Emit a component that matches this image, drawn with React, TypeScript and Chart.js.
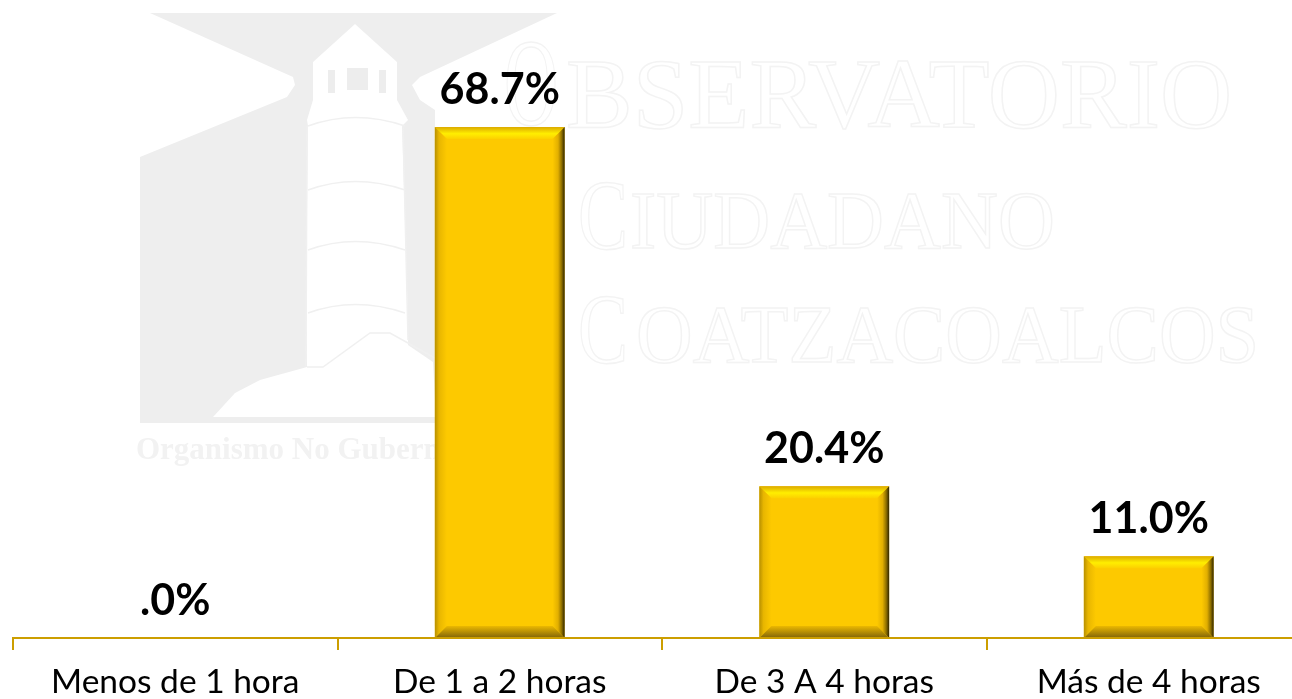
import React, { useEffect, useRef } from "react";
import { Chart, registerables } from "chart.js";

Chart.register(...registerables);

const categories = ["Menos de 1 hora", "De 1 a 2 horas", "De 3 A 4 horas", "Más de 4 horas"];
const values = [0.0, 68.7, 20.4, 11.0];
const valueLabels = [".0%", "68.7%", "20.4%", "11.0%"];

const shape = (c: any, pts: number[][]) => {
  c.beginPath();
  pts.forEach(([a, b], i) => (i ? c.lineTo(a, b) : c.moveTo(a, b)));
  c.closePath();
};

const scaledText = (c: any, text: string, x: number, y: number, size: number, sx: number) => {
  c.save();
  c.translate(x, y);
  c.scale(sx, 1);
  c.font = `${size}px "Liberation Serif"`;
  c.strokeText(text, 0, 0);
  c.restore();
};

const watermarkPlugin = {
  id: "watermark",
  beforeDraw(chart: any) {
    const c = chart.ctx;
    c.save();
    c.fillStyle = "#eeeeee";
    shape(c, [
      [150, 13], [557, 13], [420, 77], [412, 85], [420, 100], [435, 110], [435, 423], [140, 423],
      [140, 157], [287, 97], [295, 85], [293, 77],
    ]);
    c.fill();

    // tower, lantern and island cut out in white
    c.fillStyle = "#ffffff";
    shape(c, [
      [355, 24], [397, 62], [397, 100], [408, 120], [402, 126], [408, 320], [408, 345], [433, 362],
      [436, 417], [213, 417], [235, 393], [260, 380], [307, 367], [306, 300], [308, 126], [307, 120],
      [313, 100], [313, 62],
    ]);
    c.fill();

    // lantern windows
    c.fillStyle = "#ededed";
    c.fillRect(347, 68, 21, 22);
    c.fillRect(328, 70, 7, 23);
    c.fillRect(379, 70, 7, 23);

    // faint tower bands
    c.strokeStyle = "#f0f0f0";
    c.lineWidth = 1.5;
    [126, 190, 250, 313].forEach((y) => {
      c.beginPath();
      c.moveTo(308, y);
      c.quadraticCurveTo(355, y - 17, 405, y);
      c.stroke();
    });
    c.beginPath();
    c.moveTo(307, 126); c.lineTo(306, 366);
    c.moveTo(403, 126); c.lineTo(408, 340);
    c.moveTo(307, 367); c.lineTo(323, 367); c.lineTo(370, 333); c.lineTo(390, 333); c.lineTo(435, 358);
    c.stroke();

    // organisation line
    c.fillStyle = "#f2f2f2";
    c.font = 'bold 31px "Liberation Serif"';
    c.textAlign = "left";
    c.textBaseline = "alphabetic";
    c.fillText("Organismo No Gubernamental", 136, 459);

    // outlined name
    c.strokeStyle = "#f3f3f3";
    c.lineWidth = 1.5;
    scaledText(c, "O", 504, 125, 125, 0.6);
    scaledText(c, "BSERVATORIO", 566, 127, 100, 1);
    scaledText(c, "C", 578, 248, 100, 0.75);
    scaledText(c, "IUDADANO", 630, 248, 83, 0.95);
    scaledText(c, "C", 578, 362, 100, 0.75);
    scaledText(c, "OATZACOALCOS", 636, 362, 83, 0.945);
    c.restore();
  },
};

const bevelPlugin = {
  id: "bevel",
  afterDatasetsDraw(chart: any) {
    const c = chart.ctx;
    chart.getDatasetMeta(0).data.forEach((bar: any) => {
      const { x, y, base, width } = bar.getProps(["x", "y", "base", "width"]);
      if (base - y < 1) return;
      const l = x - width / 2;
      const r = x + width / 2;
      const d = 12;

      const top = c.createLinearGradient(0, y, 0, y + d);
      top.addColorStop(0, "#dcaa00");
      top.addColorStop(0.55, "#ffee00");
      top.addColorStop(1, "#fcd000");
      shape(c, [[l, y], [r, y], [r - d, y + d], [l + d, y + d]]);
      c.fillStyle = top;
      c.fill();

      const left = c.createLinearGradient(l, 0, l + d, 0);
      left.addColorStop(0, "#b89000");
      left.addColorStop(0.35, "#e8b600");
      left.addColorStop(1, "#fdc900");
      shape(c, [[l, y], [l + d, y + d], [l + d, base - d], [l, base]]);
      c.fillStyle = left;
      c.fill();

      const right = c.createLinearGradient(r - d, 0, r, 0);
      right.addColorStop(0, "#fdc900");
      right.addColorStop(0.45, "#e2af00");
      right.addColorStop(0.75, "#8f7000");
      right.addColorStop(1, "#2e2400");
      shape(c, [[r, y], [r - d, y + d], [r - d, base - d], [r, base]]);
      c.fillStyle = right;
      c.fill();

      const bottom = c.createLinearGradient(0, base - d, 0, base);
      bottom.addColorStop(0, "#ecb800");
      bottom.addColorStop(1, "#80640a");
      shape(c, [[l, base], [l + d, base - d], [r - d, base - d], [r, base]]);
      c.fillStyle = bottom;
      c.fill();
    });
  },
};

const labelPlugin = {
  id: "valueLabels",
  afterDatasetsDraw(chart: any) {
    const c = chart.ctx;
    c.save();
    c.font = 'bold 43px "Lato"';
    c.fillStyle = "#000000";
    c.textAlign = "center";
    c.textBaseline = "alphabetic";
    chart.getDatasetMeta(0).data.forEach((bar: any, i: number) => {
      c.fillText(valueLabels[i], bar.x, bar.y - 23);
    });
    c.restore();
  },
};

export default function App() {
  const ref = useRef<HTMLCanvasElement>(null);
  useEffect(() => {
    document.body.style.margin = "0";
    const chart = new Chart(ref.current!, {
      type: "bar",
      data: {
        labels: categories,
        datasets: [
          {
            data: values,
            backgroundColor: "#fdc900",
            barPercentage: 0.8,
            categoryPercentage: 0.5,
          },
        ],
      },
      options: {
        responsive: false,
        animation: false,
        layout: { padding: { left: 13, right: 9, top: 43, bottom: 0 } },
        plugins: { legend: { display: false }, tooltip: { enabled: false } },
        scales: {
          x: {
            afterFit(scale: any) {
              scale.height = 61;
            },
            grid: {
              drawOnChartArea: false,
              drawTicks: true,
              tickLength: 12,
              color: "#cc9e00",
              lineWidth: 2,
            },
            border: { color: "#cc9e00", width: 2, z: 1 },
            ticks: {
              color: "#000000",
              font: { family: "Lato", size: 33.5 },
              padding: 12,
              maxRotation: 0,
              autoSkip: false,
            },
          },
          y: { display: false, min: 0, max: 80 },
        },
      },
      plugins: [watermarkPlugin, bevelPlugin, labelPlugin],
    });
    return () => chart.destroy();
  }, []);
  return (
    <div style={{ width: 1292, height: 699, overflow: "hidden" }}>
      <canvas ref={ref} width={1320} height={699} style={{ display: "block" }} />
    </div>
  );
}
